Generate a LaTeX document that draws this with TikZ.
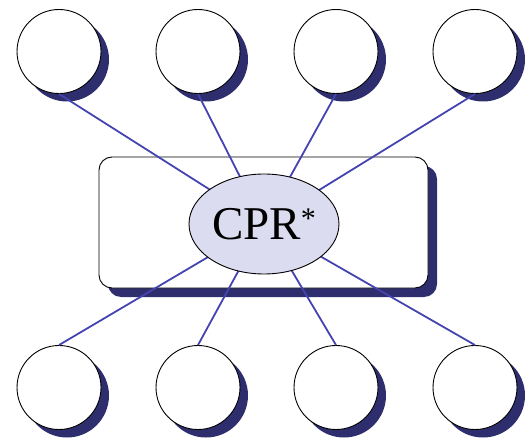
\documentclass[tikz,border=0pt]{standalone}
\usepackage{fontspec}
\setmainfont{Liberation Serif}
\usetikzlibrary{shadows,shapes.geometric}
\definecolor{shade}{RGB}{46,46,110}
\definecolor{link}{RGB}{68,68,176}
\definecolor{core}{RGB}{220,220,240}
\tikzset{
  x=1pt, y=-1pt,
  dropshade/.style={drop shadow={shadow xshift=8pt, shadow yshift=-8pt, fill=shade, opacity=1}},
  peer/.style={circle, draw=black, fill=white, line width=0.9pt, minimum size=84pt, inner sep=0pt, dropshade},
  panel/.style={draw=black, fill=white, line width=0.9pt, rounded corners=13pt, minimum width=329pt, minimum height=131pt, inner sep=0pt, drop shadow={shadow xshift=9pt, shadow yshift=-9pt, fill=shade, opacity=1}},
  hub/.style={ellipse, draw=black, fill=core, line width=0.9pt, minimum width=150pt, minimum height=100pt, inner sep=0pt, font=\fontsize{47}{52}\selectfont},
  wire/.style={draw=link, line width=1.8pt}
}
\begin{document}
\begin{tikzpicture}
\useasboundingbox (0,0) rectangle (527,438);
% central panel
\node[panel] (box) at (263.5,222.5) {};
% hub position
\coordinate (hc) at (264,224);
% outer peers and their connectors to the hub
\foreach \i/\x in {1/59,2/198,3/336,4/475} {
  \node[peer] (t\i) at (\x,51.5) {};
  \node[peer] (b\i) at (\x,387.5) {};
  \draw[wire] (t\i.south) -- (hc);
  \draw[wire] (b\i.north) -- (hc);
}
\node[hub] (c) at (hc) {CPR\raisebox{11pt}{\fontsize{30}{30}\selectfont *}};
\end{tikzpicture}
\end{document}
